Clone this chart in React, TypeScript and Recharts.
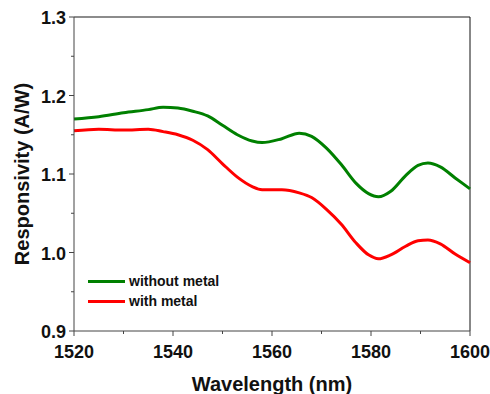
import { LineChart, Line, XAxis, YAxis, ReferenceLine } from 'recharts';

// wavelength (nm) and responsivity (A/W)
const wavelength = [1520, 1525, 1530, 1535, 1538, 1541, 1544, 1547, 1550, 1553, 1556, 1558, 1562, 1565.5, 1568, 1571, 1574, 1577, 1579.5, 1581.5, 1584, 1587, 1589.5, 1591.5, 1594, 1597, 1600];
const withoutMetal = [1.170, 1.173, 1.178, 1.182, 1.185, 1.184, 1.180, 1.174, 1.162, 1.150, 1.142, 1.140, 1.145, 1.152, 1.148, 1.133, 1.112, 1.088, 1.075, 1.071, 1.078, 1.098, 1.111, 1.114, 1.109, 1.095, 1.081];
const withMetal = [1.155, 1.157, 1.156, 1.157, 1.154, 1.150, 1.143, 1.131, 1.113, 1.096, 1.084, 1.080, 1.080, 1.076, 1.070, 1.055, 1.036, 1.012, 0.997, 0.992, 0.997, 1.008, 1.015, 1.016, 1.011, 0.998, 0.987];

const xTicks = [1520, 1530, 1540, 1550, 1560, 1570, 1580, 1590, 1600];
const xLabels = [1520, 1540, 1560, 1580, 1600];
const yTicks = [0.9, 0.95, 1.0, 1.05, 1.1, 1.15, 1.2, 1.25, 1.3];
const yLabels = [0.9, 1.0, 1.1, 1.2, 1.3];

const legendItems = [
  { label: 'without metal', color: '#008000' },
  { label: 'with metal', color: '#ff0000' },
];

const data = wavelength.map((w, i) => ({ w, without: withoutMetal[i], with: withMetal[i] }));

const FONT = 'Liberation Sans, Arial, sans-serif';

function XTick(props: any) {
  const { x, y, payload } = props;
  const major = xLabels.includes(payload.value);
  return (
    <g>
      <line x1={x} x2={x} y1={y} y2={y + (major ? 5 : 3)} stroke="#444" strokeWidth={1} />
      {major && (
        <text x={x} y={y + 27} textAnchor="middle" fontSize={18} fontWeight="bold" fill="#111" fontFamily={FONT}>
          {payload.value}
        </text>
      )}
    </g>
  );
}

function YTick(props: any) {
  const { x, y, payload } = props;
  const major = yLabels.some((v) => Math.abs(v - payload.value) < 1e-6);
  return (
    <g>
      <line x1={x} x2={x - (major ? 5 : 3)} y1={y} y2={y} stroke="#444" strokeWidth={1} />
      {major && (
        <text x={x - 8} y={y + 7} textAnchor="end" fontSize={18} fontWeight="bold" fill="#111" fontFamily={FONT}>
          {payload.value.toFixed(1)}
        </text>
      )}
    </g>
  );
}

export default function App() {
  return (
    <div style={{ position: 'absolute', left: 0, top: 0, width: 490, height: 394, background: '#fff' }}>
      <LineChart width={490} height={394} data={data} margin={{ top: 17, right: 20, left: 0, bottom: 0 }}>
        <XAxis
          dataKey="w"
          type="number"
          domain={[1520, 1600]}
          ticks={xTicks}
          interval={0}
          tick={<XTick />}
          tickLine={false}
          tickSize={0}
          tickMargin={0}
          height={63}
          stroke="#444"
          label={{ value: 'Wavelength (nm)', position: 'insideBottom', offset: 3, fontSize: 20, fontWeight: 'bold', fill: '#111', fontFamily: FONT }}
        />
        <YAxis
          type="number"
          domain={[0.9, 1.3]}
          ticks={yTicks}
          interval={0}
          tick={<YTick />}
          tickLine={false}
          tickSize={0}
          tickMargin={0}
          width={74}
          stroke="#444"
          label={{ value: 'Responsivity (A/W)', angle: -90, position: 'insideLeft', offset: 0, dx: 22, fontSize: 20, fontWeight: 'bold', fill: '#111', fontFamily: FONT, style: { textAnchor: 'middle' } }}
        />
        <ReferenceLine y={1.3} stroke="#666" strokeWidth={1.5} />
        <ReferenceLine x={1600} stroke="#111" strokeWidth={1} />
        <Line type="monotone" dataKey="without" stroke="#008000" strokeWidth={3} dot={false} isAnimationActive={false} />
        <Line type="monotone" dataKey="with" stroke="#ff0000" strokeWidth={3} dot={false} isAnimationActive={false} />
      </LineChart>
      <div style={{ position: 'absolute', left: 88, top: 271, fontFamily: FONT, fontSize: 14, fontWeight: 'bold', color: '#111' }}>
        {legendItems.map((it) => (
          <div key={it.label} style={{ display: 'flex', alignItems: 'center', height: 20 }}>
            <div style={{ width: 37, height: 3, background: it.color, marginRight: 4 }} />
            <span>{it.label}</span>
          </div>
        ))}
      </div>
    </div>
  );
}
